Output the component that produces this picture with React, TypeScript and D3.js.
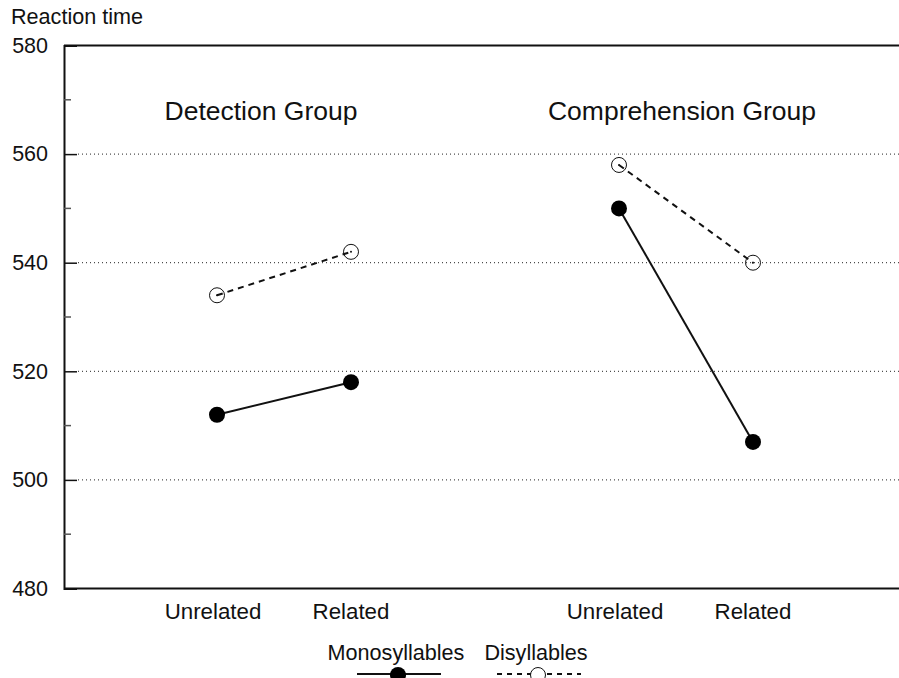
import React, { useEffect, useRef } from 'react';
import * as d3 from 'd3';

// condition positions: two groups, one empty slot between them
const conditions = ['Unrelated', 'Related', 'Unrelated', 'Related'];
const slots = [0, 1, 3, 4];
const groups = ['Detection Group', 'Comprehension Group'];

const monoDetection = [512, 518];
const disDetection = [534, 542];
const monoComprehension = [550, 507];
const disComprehension = [558, 540];

const majorTicks = [480, 500, 520, 540, 560, 580];
const minorTicks = [490, 510, 530, 550, 570];
const gridTicks = [500, 520, 540, 560];

const FONT = 'Liberation Sans, Arial, sans-serif';

function App() {
    const svgRef = useRef<SVGSVGElement>(null);

    useEffect(() => {
        if (!svgRef.current) return;
        const svg = d3.select(svgRef.current);
        svg.selectAll('*').remove();

        const left = 64;
        const right = 899;
        const x = d3.scaleLinear().domain([0, 4]).range([217, 753]);
        const y = d3.scaleLinear().domain([480, 580]).range([588.5, 45.5]);

        // grid
        svg.append('g')
            .selectAll('line')
            .data(gridTicks)
            .join('line')
            .attr('x1', left + 14)
            .attr('x2', right)
            .attr('y1', d => y(d))
            .attr('y2', d => y(d))
            .attr('stroke', '#222')
            .attr('stroke-width', 1)
            .attr('stroke-dasharray', '1,3');

        // frame: top and bottom lines, left axis
        svg.append('line').attr('x1', left).attr('x2', right).attr('y1', y(580)).attr('y2', y(580))
            .attr('stroke', '#111').attr('stroke-width', 2);
        svg.append('line').attr('x1', left).attr('x2', right).attr('y1', y(480)).attr('y2', y(480))
            .attr('stroke', '#111').attr('stroke-width', 2);

        const axis = svg.append('g')
            .attr('transform', `translate(${left},0)`)
            .call(d3.axisLeft(y).tickValues(majorTicks).tickSize(-13).tickPadding(16).tickFormat(d3.format('d')));
        axis.select('.domain').attr('stroke', '#111').attr('stroke-width', 2);
        axis.selectAll('.tick line').attr('stroke', '#111').attr('stroke-width', 1.5);
        axis.selectAll('.tick text')
            .attr('font-family', FONT)
            .attr('font-size', 21.5)
            .attr('fill', '#111');

        svg.append('g')
            .selectAll('line')
            .data(minorTicks)
            .join('line')
            .attr('x1', left)
            .attr('x2', left + 7)
            .attr('y1', d => y(d))
            .attr('y2', d => y(d))
            .attr('stroke', '#555')
            .attr('stroke-width', 1.5);

        svg.append('text')
            .attr('x', 11)
            .attr('y', 24)
            .attr('font-family', FONT)
            .attr('font-size', 21.6)
            .attr('fill', '#111')
            .text('Reaction time');

        // group titles
        const titleX = [261, 682];
        svg.selectAll('.group-title')
            .data(groups)
            .join('text')
            .attr('class', 'group-title')
            .attr('x', (d, i) => titleX[i])
            .attr('y', 120)
            .attr('text-anchor', 'middle')
            .attr('font-family', FONT)
            .attr('font-size', 26.5)
            .attr('fill', '#111')
            .text(d => d);

        // condition labels
        svg.selectAll('.cond')
            .data(conditions)
            .join('text')
            .attr('class', 'cond')
            .attr('x', (d, i) => x(slots[i]) - (i % 2 === 0 ? 4 : 0))
            .attr('y', 619)
            .attr('text-anchor', 'middle')
            .attr('font-family', FONT)
            .attr('font-size', 22.3)
            .attr('fill', '#111')
            .text(d => d);

        const line = d3.line<[number, number]>()
            .x(d => x(d[0]))
            .y(d => y(d[1]));

        const series = [
            { vals: monoDetection, pos: [0, 1], filled: true },
            { vals: monoComprehension, pos: [3, 4], filled: true },
            { vals: disDetection, pos: [0, 1], filled: false },
            { vals: disComprehension, pos: [3, 4], filled: false },
        ];

        series.forEach(s => {
            const pts: [number, number][] = s.vals.map((v, i) => [s.pos[i], v]);
            svg.append('path')
                .datum(pts)
                .attr('fill', 'none')
                .attr('stroke', '#111')
                .attr('stroke-width', 2)
                .attr('stroke-dasharray', s.filled ? null : '6,5')
                .attr('d', line);
            pts.forEach(p => {
                if (s.filled) {
                    svg.append('circle').attr('cx', x(p[0])).attr('cy', y(p[1])).attr('r', 8).attr('fill', '#000');
                } else {
                    svg.append('circle').attr('cx', x(p[0])).attr('cy', y(p[1])).attr('r', 7.5)
                        .attr('fill', 'none').attr('stroke', '#111').attr('stroke-width', 1);
                    svg.append('circle').attr('cx', x(p[0])).attr('cy', y(p[1])).attr('r', 1).attr('fill', '#111');
                }
            });
        });

        // legend
        const legend = [
            { label: 'Monosyllables', cx: 398, filled: true },
            { label: 'Disyllables', cx: 538, filled: false },
        ];
        legend.forEach(l => {
            svg.append('text')
                .attr('x', l.cx - 2)
                .attr('y', 660)
                .attr('text-anchor', 'middle')
                .attr('font-family', FONT)
                .attr('font-size', 21.6)
                .attr('fill', '#111')
                .text(l.label);
            svg.append('line')
                .attr('x1', l.cx - 41)
                .attr('x2', l.cx + 43)
                .attr('y1', 674)
                .attr('y2', 674)
                .attr('stroke', '#111')
                .attr('stroke-width', 2)
                .attr('stroke-dasharray', l.filled ? null : '5,5');
            if (l.filled) {
                svg.append('circle').attr('cx', l.cx).attr('cy', 675).attr('r', 8).attr('fill', '#000');
            } else {
                svg.append('circle').attr('cx', l.cx).attr('cy', 675).attr('r', 7.5)
                    .attr('fill', '#fff').attr('stroke', '#111').attr('stroke-width', 1);
            }
        });
    }, []);

    return (
        <svg
            ref={svgRef}
            width={899}
            height={678}
            style={{ position: 'absolute', left: 0, top: 0, background: '#fff' }}
        />
    );
}

export default App;
